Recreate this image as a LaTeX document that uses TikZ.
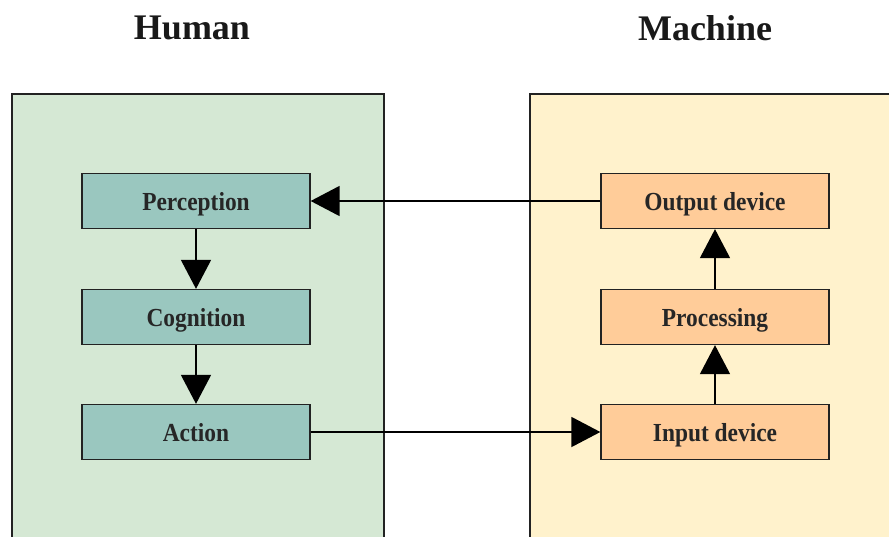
\documentclass[tikz,border=0pt]{standalone}
\usepackage{fontspec}
\setmainfont{Liberation Serif}
\newfontfamily\labelfont{Liberation Serif}[FakeStretch=0.9]
\usetikzlibrary{arrows.meta}

\definecolor{humanbg}{HTML}{D5E8D4}
\definecolor{machinebg}{HTML}{FFF2CC}
\definecolor{humanbox}{HTML}{9AC7BF}
\definecolor{machinebox}{HTML}{FFCC99}
\definecolor{edge}{HTML}{222222}

\tikzset{
  panel/.style={draw=edge, line width=1.6pt, rectangle, anchor=north west,
    minimum width=372pt, minimum height=480pt, inner sep=0pt},
  paneltitle/.style={font=\fontsize{36}{40}\selectfont\bfseries, text=black!90},
  stage/.style={draw=edge, line width=1.3pt, rectangle, minimum width=228pt,
    minimum height=55pt, inner sep=0pt, text height=18pt, text depth=0pt,
    font=\labelfont\fontsize{26}{30}\selectfont\bfseries, text=black!85},
  flow/.style={draw=black, line width=1.6pt,
    -{Triangle[length=29pt,width=30pt]}}
}

\begin{document}
\begin{tikzpicture}[x=1pt, y=-1pt]
  \clip (0,0) rectangle (889,536);
  \fill[white] (0,0) rectangle (889,536);

  % the two panels
  \node[panel, fill=humanbg] (human) at (11,93) {};
  \node[panel, fill=machinebg] (machine) at (529,93) {};

  \node[paneltitle] (humantitle) at (192,28) {Human};
  \node[paneltitle] (machinetitle) at (705,28) {Machine};

  % human side
  \node[stage, fill=humanbox] (perception) at (196,201) {Perception};
  \node[stage, fill=humanbox] (cognition) at (196,317) {Cognition};
  \node[stage, fill=humanbox] (action) at (196,432) {Action};

  % machine side
  \node[stage, fill=machinebox] (output) at (715,201) {Output device};
  \node[stage, fill=machinebox] (processing) at (715,317) {Processing};
  \node[stage, fill=machinebox] (input) at (715,432) {Input device};

  % connectors
  \draw[flow] (perception) -- (cognition);
  \draw[flow] (cognition) -- (action);
  \draw[flow] (action) -- (input);
  \draw[flow] (input) -- (processing);
  \draw[flow] (processing) -- (output);
  \draw[flow] (output) -- (perception);
\end{tikzpicture}
\end{document}
